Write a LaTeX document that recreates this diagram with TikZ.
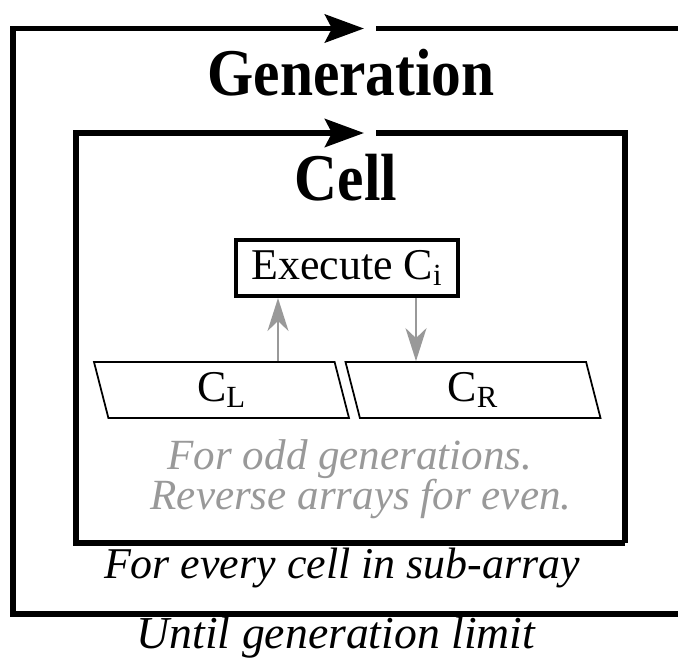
\documentclass[tikz,border=0pt]{standalone}
\usepackage{fontspec}
\setmainfont{Liberation Serif}
\newfontfamily\headfont{Liberation Serif}[FakeStretch=0.89]
\usetikzlibrary{arrows.meta,positioning,shapes.geometric}
\definecolor{notegray}{RGB}{153,153,153}
\tikzset{loopline/.style={line width=3.4pt, -{Stealth[length=7.8mm, width=5.6mm, inset=1.4mm]}},
  framegap/.style={line width=3.4pt},
  title/.style={font=\headfont\fontsize{38}{44}\selectfont\bfseries, inner sep=0pt, anchor=base},
  caption/.style={font=\fontsize{25}{30}\selectfont\itshape, inner sep=0pt, anchor=base},
  note/.style={caption, font=\fontsize{24.5}{29}\selectfont\itshape, text=notegray},
  cellop/.style={draw, line width=2.3pt, minimum width=44.4mm, minimum height=11.2mm, inner sep=0pt, font=\fontsize{25}{30}\selectfont},
  databox/.style={draw, line width=1pt, trapezium, trapezium left angle=112, trapezium right angle=68,
    trapezium stretches body, minimum width=51mm, minimum height=11.2mm, inner sep=0pt, font=\fontsize{25}{30}\selectfont},
  flow/.style={draw=notegray, line width=1.2pt, -{Stealth[length=6.6mm, width=4.2mm, inset=2mm]}}}

\begin{document}
\begin{tikzpicture}
  \useasboundingbox (0,0) rectangle (13.56,-13.18);
  % generation loop (right side runs off the page)
  \draw[framegap] (7.52,-0.57) -- (13.9,-0.57) -- (13.9,-12.28);
  \draw[loopline] (13.9,-12.28) -- (0.26,-12.28) -- (0.26,-0.57) -- (7.28,-0.57);
  \node[title] (gen) at (7.02,-1.9) {Generation};
  % cell loop
  \draw[framegap] (7.52,-2.66) -- (12.5,-2.66) -- (12.5,-10.86);
  \draw[loopline] (12.5,-10.86) -- (1.52,-10.86) -- (1.52,-2.66) -- (7.28,-2.66);
  \node[title] (cell) at (6.92,-4.0) {Cell};
  % execute and neighbours
  \node[cellop] (exec) at (6.94,-5.36) {Execute C\textsubscript{i}};
  \node[databox] (cl) at (4.43,-7.8) {C\textsubscript{L}};
  \node[databox] (cr) at (9.46,-7.8) {C\textsubscript{R}};
  \coordinate (inl) at ([xshift=-13.8mm]exec.south);
  \coordinate (outr) at ([xshift=13.8mm]exec.south);
  \draw[flow] (cl.north -| inl) -- (inl);
  \draw[flow] (outr) -- (cr.north -| outr);
  \node[note] (odd) at (7.0,-9.38) {For odd generations.};
  \node[note] (even) at (7.22,-10.18) {Reverse arrays for even.};
  \node[caption] (each) at (6.84,-11.56) {For every cell in sub-array};
  \node[caption, font=\fontsize{26}{31}\selectfont\itshape] (until) at (6.72,-12.96) {Until generation limit};
\end{tikzpicture}
\end{document}
